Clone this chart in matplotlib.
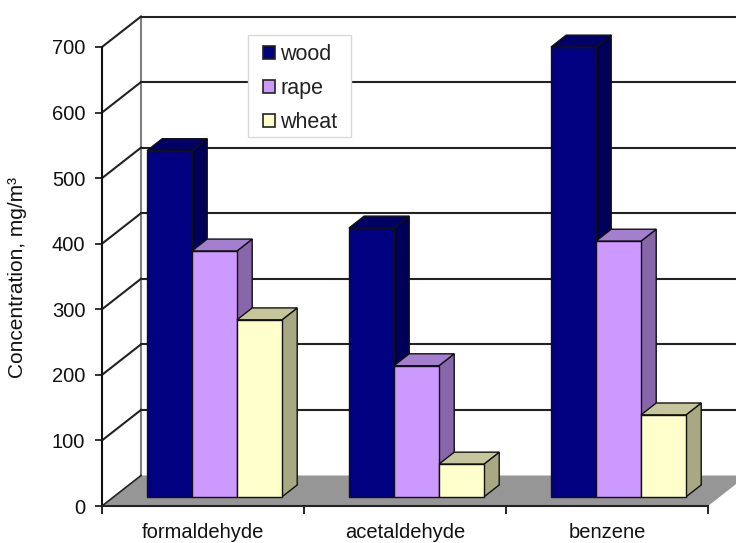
import matplotlib
matplotlib.use('Agg')
import matplotlib.pyplot as plt
from matplotlib.patches import Patch, Polygon, Rectangle

categories = ['formaldehyde', 'acetaldehyde', 'benzene']
wood = [528, 410, 686]
rape = [375, 200, 390]
wheat = [270, 50, 125]
y_ticks = [0, 100, 200, 300, 400, 500, 600, 700]

series_names = ['wood', 'rape', 'wheat']
face_colors = ['#000080', '#CC99FF', '#FFFFCC']
top_colors = ['#000066', '#A57FCF', '#C6C69C']
side_colors = ['#000058', '#8866AA', '#A8A882']

# 3d look: how far the back wall is shifted from the front plane, in data units
depth_x = 39 / 202
depth_y = 30.5 / 459 * 700
bar_width = 45 / 202
gap = 33.3 / 202
bar_front = 0.3
bar_back = 0.69

plt.rcParams['font.family'] = ['Liberation Sans', 'DejaVu Sans']

fig = plt.figure(figsize=(7.36, 5.43), dpi=100)
ax = fig.add_axes([102 / 736, 37 / 543, 606 / 736, 459 / 543])
ax.set_xlim(0, 3)
ax.set_ylim(0, 700)
ax.patch.set_visible(False)
for side in ['top', 'right']:
    ax.spines[side].set_visible(False)
ax.spines['left'].set_linewidth(1.5)
ax.spines['left'].set_color('#111111')
ax.spines['bottom'].set_linewidth(1.5)
ax.spines['bottom'].set_color('#222222')

# floor
ax.add_patch(Polygon([(0, 0), (3, 0), (3 + depth_x, depth_y), (depth_x, depth_y)],
                     facecolor='#969696', edgecolor='none', clip_on=False, zorder=1))

# walls
ax.plot([depth_x, depth_x], [depth_y, 700 + depth_y], color='#808080', lw=1.5,
        clip_on=False, zorder=1.5)
for t in y_ticks[1:]:
    ax.plot([depth_x, 3 + depth_x], [t + depth_y, t + depth_y], color='#222222', lw=1.5,
            clip_on=False, zorder=1.5)
    ax.plot([0, depth_x], [t, t + depth_y], color='#222222', lw=1.5, clip_on=False, zorder=1.5)
ax.plot([0, depth_x], [0, depth_y], color='#222222', lw=1.2, clip_on=False, zorder=1.5)

# bars
base = bar_front * depth_y
dx = (bar_back - bar_front) * depth_x
dy = (bar_back - bar_front) * depth_y
for s, values in enumerate([wood, rape, wheat]):
    z = 3 + s
    for i, v in enumerate(values):
        x0 = i + gap + bar_front * depth_x + s * bar_width
        x1 = x0 + bar_width
        top = base + v
        ax.bar(x0, v, bar_width, bottom=base, align='edge', color=face_colors[s],
               edgecolor='#111111', lw=1, clip_on=False, zorder=z + 0.2)
        ax.add_patch(Polygon([(x1, base), (x1 + dx, base + dy), (x1 + dx, top + dy), (x1, top)],
                             facecolor=side_colors[s], edgecolor='#111111', lw=1,
                             clip_on=False, zorder=z))
        ax.add_patch(Polygon([(x0, top), (x1, top), (x1 + dx, top + dy), (x0 + dx, top + dy)],
                             facecolor=top_colors[s], edgecolor='#111111', lw=1,
                             clip_on=False, zorder=z))

ax.set_yticks(y_ticks)
ax.tick_params(axis='y', labelsize=14.5, length=5, width=1.2, pad=7, colors='#111111')
ax.set_xticks([0, 1, 2, 3])
ax.set_xticklabels([])
ax.set_xticks([0.5, 1.5, 2.5], minor=True)
ax.set_xticklabels(categories, minor=True, fontsize=14.5, color='#111111')
ax.tick_params(axis='x', which='major', length=6, width=1.2)
ax.tick_params(axis='x', which='minor', length=0, pad=12)

fig.text(18 / 736, 1 - 278 / 543, 'Concentration, mg/m³', rotation=90, fontsize=15,
         color='#111111', ha='center', va='center')

# legend box is drawn apart, its padding differs across and down
ax.add_patch(Rectangle((248 / 736, 1 - 137 / 543), 103 / 736, 102 / 543,
                       transform=fig.transFigure, facecolor='white', edgecolor='#D9D9D9',
                       lw=1, clip_on=False, zorder=2))
handles = [Patch(facecolor=c, edgecolor='#222222', lw=1.2, label=n)
           for c, n in zip(face_colors, series_names)]
leg = ax.legend(handles=handles, loc='upper left',
                bbox_to_anchor=(263 / 736, 1 - 44 / 543), bbox_transform=fig.transFigure,
                fontsize=15.5, frameon=False,
                handlelength=0.55, handleheight=0.55, handletextpad=0.25, labelspacing=0.6,
                borderpad=0, borderaxespad=0, labelcolor='#222222')
leg.set_zorder(2.5)

fig.savefig('out.png', dpi=100)
plt.close()
